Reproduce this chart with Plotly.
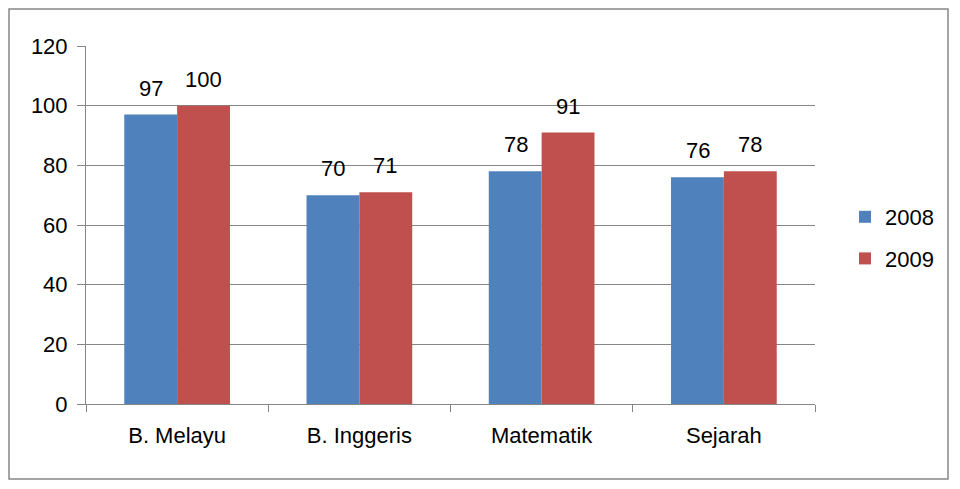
import plotly.graph_objects as go

categories = ["B. Melayu", "B. Inggeris", "Matematik", "Sejarah"]
series_names = ["2008", "2009"]
values_2008 = [97, 70, 78, 76]
values_2009 = [100, 71, 91, 78]
y_ticks = [0, 20, 40, 60, 80, 100, 120]

colors = ["#4F81BD", "#C0504D"]
FONT = "Liberation Sans, Arial, sans-serif"

W, H = 960, 489
L, R, T, B = 86, 815, 46, 404  # plot area in px

fig = go.Figure()
for name, vals, col, grp in zip(series_names, [values_2008, values_2009], colors, ["a", "b"]):
    fig.add_trace(go.Bar(
        x=categories, y=vals, name=name, marker_color=col,
        marker_line_width=0, legendgroup=grp,
    ))

# data labels above bars
shift = 26
for vals, xs in zip([values_2008, values_2009], [-shift, shift]):
    for c, v in zip(categories, vals):
        fig.add_annotation(x=c, y=v, text=str(v), showarrow=False,
                           xshift=xs, yshift=12, yanchor="bottom",
                           font=dict(family=FONT, size=22, color="#000"))

pw = R - L
ph = B - T
def px_x(p):
    return (p - L) / pw
def px_y(p):
    return (B - p) / ph

fig.add_shape(type="rect", xref="paper", yref="paper",
              x0=px_x(9), x1=px_x(948), y0=px_y(479), y1=px_y(9),
              line=dict(color="#868686", width=1.5), layer="below")

fig.update_layout(
    width=W, height=H,
    margin=dict(l=L, r=W - R, t=T, b=H - B),
    paper_bgcolor="white", plot_bgcolor="white",
    barmode="group", bargap=0.42, bargroupgap=0,
    font=dict(family=FONT, size=22, color="#000"),
    legend=dict(x=px_x(845), y=px_y(238), xanchor="left", yanchor="middle",
                font=dict(family=FONT, size=22), tracegroupgap=10,
                bgcolor="rgba(0,0,0,0)"),
    showlegend=True,
)
fig.update_xaxes(
    showline=True, linecolor="#868686", linewidth=1,
    ticks="outside", tickson="boundaries", ticklen=7, tickcolor="#868686",
    ticklabelstandoff=12, showgrid=False,
    tickfont=dict(family=FONT, size=22),
)
fig.update_yaxes(
    range=[0, 120], tickvals=y_ticks, showline=True, linecolor="#868686", linewidth=1,
    ticks="outside", ticklen=8, tickcolor="#868686",
    showgrid=True, gridcolor="#868686", gridwidth=1, zeroline=False,
    ticklabelstandoff=5,
    tickfont=dict(family=FONT, size=22),
)

fig.write_html("out.html")
